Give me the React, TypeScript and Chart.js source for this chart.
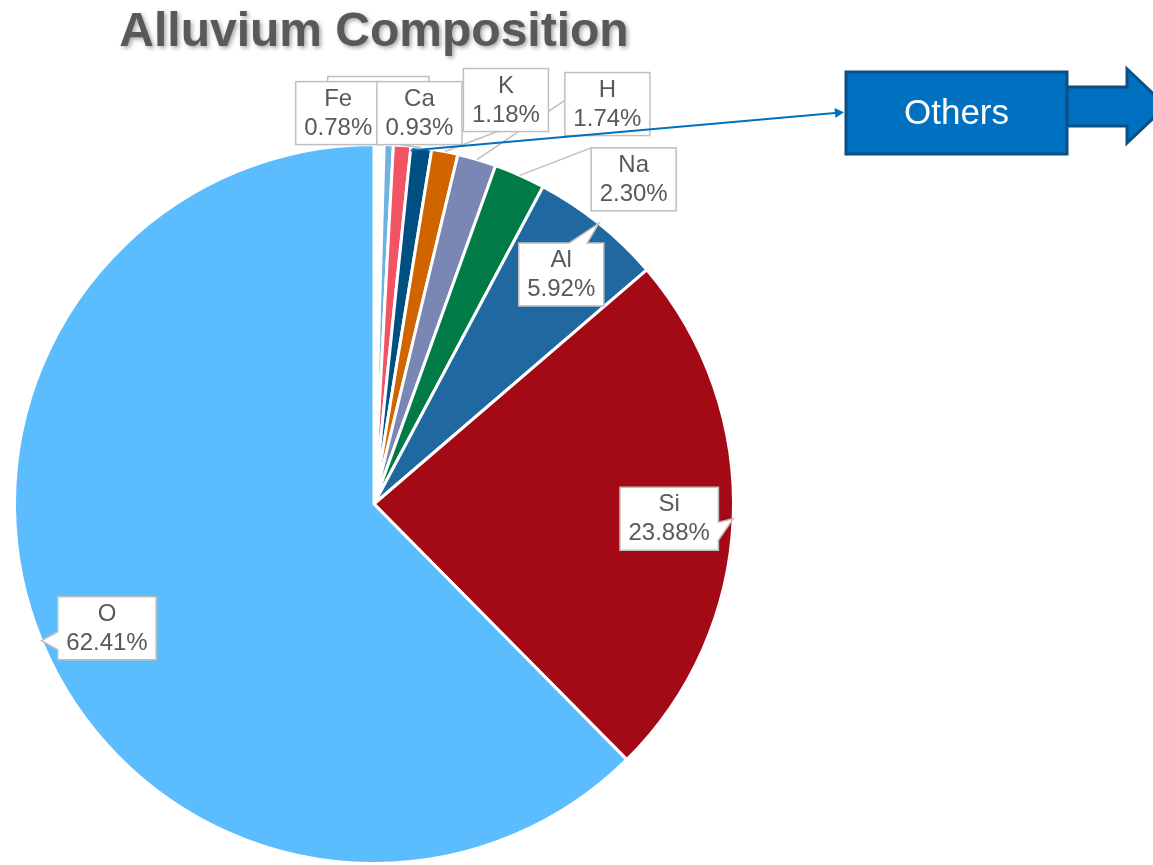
import React, { useEffect, useRef } from "react";
import { Chart, registerables } from "chart.js";

Chart.register(...registerables);

// ---- data ----
const categories = ["Other A", "Other B", "Fe", "Ca", "K", "H", "Na", "Al", "Si", "O"];
const percentages = [0.45, 0.41, 0.78, 0.93, 1.18, 1.74, 2.3, 5.92, 23.88, 62.41];
const sliceColors = [
  "#ffffff",
  "#6cb2e2",
  "#f25464",
  "#004f82",
  "#d06500",
  "#7a86b3",
  "#007a46",
  "#1f68a0",
  "#a30a15",
  "#5bbdfd",
];
const labelled = [false, false, true, true, true, true, true, true, true, true];
const titleText = "Alluvium Composition";
const othersText = "Others";

// ---- label layout (offset of the box centre from the slice's outer mid-point) ----
const labelOffsets: Record<string, [number, number]> = {
  Fe: [-64, -32.5],
  Ca: [-2, -34.5],
  K: [61, -51.5],
  H: [130.5, -55.5],
  Na: [114, 4],
  Al: [-37.5, 51],
  Si: [-64, 0],
  O: [65.5, -12.5],
};
// where the leader line meets the box (fraction of width, fraction of height)
const leaderAttach: Record<string, [number, number] | null> = {
  Fe: null,
  Ca: [0.28, 1],
  K: [0.4, 1],
  H: [0, 0.44],
  Na: [0, 0],
};
const calloutLabels = ["Al", "Si", "O"];

const FONT = "'Liberation Sans', Arial, sans-serif";
const TEXT_GREY = "#595959";
const BOX_BORDER = "#bfbfbf";

function drawCallout(ctx: CanvasRenderingContext2D, l: number, t: number, r: number, b: number, tx: number, ty: number) {
  const wh = 9;
  let side = "bottom";
  if (tx < l) side = "left";
  else if (tx > r) side = "right";
  else if (ty < t) side = "top";
  ctx.beginPath();
  ctx.moveTo(l, t);
  if (side === "top") {
    const c = l + (r - l) * 0.7;
    ctx.lineTo(c - wh, t);
    ctx.lineTo(tx, ty);
    ctx.lineTo(c + wh, t);
  }
  ctx.lineTo(r, t);
  if (side === "right") {
    const c = t + (b - t) * 0.7;
    ctx.lineTo(r, c - wh);
    ctx.lineTo(tx, ty);
    ctx.lineTo(r, c + wh);
  }
  ctx.lineTo(r, b);
  if (side === "bottom") {
    const c = l + (r - l) * 0.7;
    ctx.lineTo(c + wh, b);
    ctx.lineTo(tx, ty);
    ctx.lineTo(c - wh, b);
  }
  ctx.lineTo(l, b);
  if (side === "left") {
    const c = t + (b - t) * 0.7;
    ctx.lineTo(l, c + wh);
    ctx.lineTo(tx, ty);
    ctx.lineTo(l, c - wh);
  }
  ctx.closePath();
  ctx.fillStyle = "#ffffff";
  ctx.fill();
  ctx.strokeStyle = BOX_BORDER;
  ctx.lineWidth = 1.5;
  ctx.stroke();
}

const labelPlugin = {
  id: "alluviumLabels",
  afterDraw(chart: any) {
    const ctx: CanvasRenderingContext2D = chart.ctx;
    const meta = chart.getDatasetMeta(0);
    const first = meta.data[0];
    const cx = first.x;
    ctx.save();

    // Title
    ctx.save();
    ctx.font = `bold 48px ${FONT}`;
    ctx.textAlign = "center";
    ctx.textBaseline = "alphabetic";
    ctx.shadowColor = "rgba(0,0,0,0.35)";
    ctx.shadowBlur = 4;
    ctx.shadowOffsetX = 2;
    ctx.shadowOffsetY = 2;
    ctx.fillStyle = TEXT_GREY;
    ctx.fillText(titleText, cx, 46);
    ctx.restore();

    ctx.font = `24px ${FONT}`;
    const items: any[] = [];
    meta.data.forEach((arc: any, i: number) => {
      if (!labelled[i]) return;
      const name = categories[i];
      const p = arc.getProps(["x", "y", "startAngle", "endAngle", "outerRadius"], true);
      const mid = (p.startAngle + p.endAngle) / 2;
      const ax = p.x + Math.cos(mid) * p.outerRadius;
      const ay = p.y + Math.sin(mid) * p.outerRadius;
      const [dx, dy] = labelOffsets[name];
      const pct = percentages[i].toFixed(2) + "%";
      const w = Math.max(ctx.measureText(name).width, ctx.measureText(pct).width) + 17;
      const h = 63;
      const bx = ax + dx;
      const by = ay + dy;
      items.push({ name, pct, ax, ay, l: bx - w / 2, r: bx + w / 2, t: by - h / 2, b: by + h / 2, bx, by });
    });

    // hidden (overlapped) label box of the smallest slices
    const fe = items.find((it) => it.name === "Fe");
    const ca = items.find((it) => it.name === "Ca");
    if (fe && ca) {
      ctx.fillStyle = "#ffffff";
      ctx.strokeStyle = BOX_BORDER;
      ctx.lineWidth = 1.5;
      ctx.beginPath();
      ctx.rect(fe.l + 32, fe.t - 5, ca.r - fe.l - 65, 60);
      ctx.fill();
      ctx.stroke();
    }

    // leader lines
    items.forEach((it) => {
      const att = leaderAttach[it.name];
      if (!att) return;
      const px = it.l + (it.r - it.l) * att[0];
      const py = it.t + (it.b - it.t) * att[1];
      ctx.beginPath();
      ctx.moveTo(px, py);
      ctx.lineTo(it.ax, it.ay);
      ctx.strokeStyle = BOX_BORDER;
      ctx.lineWidth = 1.5;
      ctx.stroke();
    });

    // boxes + text
    items.forEach((it) => {
      if (calloutLabels.includes(it.name)) {
        drawCallout(ctx, it.l, it.t, it.r, it.b, it.ax, it.ay);
      } else {
        ctx.fillStyle = "#ffffff";
        ctx.fillRect(it.l, it.t, it.r - it.l, it.b - it.t);
        ctx.strokeStyle = BOX_BORDER;
        ctx.lineWidth = 1.5;
        ctx.strokeRect(it.l, it.t, it.r - it.l, it.b - it.t);
      }
      ctx.fillStyle = TEXT_GREY;
      ctx.font = `24px ${FONT}`;
      ctx.textAlign = "center";
      ctx.textBaseline = "middle";
      ctx.fillText(it.name, it.bx, it.by - 14);
      ctx.fillText(it.pct, it.bx, it.by + 15);
    });

    // "Others" annotation
    const ob = { l: 846, t: 72, w: 221, h: 82 };
    const midY = 106;
    // big arrow
    ctx.beginPath();
    ctx.moveTo(ob.l + ob.w - 2, midY - 19);
    ctx.lineTo(1127, midY - 19);
    ctx.lineTo(1127, midY - 37);
    ctx.lineTo(1166, midY);
    ctx.lineTo(1127, midY + 37);
    ctx.lineTo(1127, midY + 20);
    ctx.lineTo(ob.l + ob.w - 2, midY + 20);
    ctx.closePath();
    ctx.fillStyle = "#0070c0";
    ctx.fill();
    ctx.strokeStyle = "#0b4f87";
    ctx.lineWidth = 3;
    ctx.stroke();
    // box
    ctx.fillStyle = "#0070c0";
    ctx.fillRect(ob.l, ob.t, ob.w, ob.h);
    ctx.strokeStyle = "#0b4f87";
    ctx.lineWidth = 3;
    ctx.strokeRect(ob.l, ob.t, ob.w, ob.h);
    ctx.fillStyle = "#ffffff";
    ctx.font = `35px ${FONT}`;
    ctx.textAlign = "center";
    ctx.textBaseline = "middle";
    ctx.fillText(othersText, ob.l + ob.w / 2, ob.t + ob.h / 2 + 1);

    // thin pointer line from the small slices to the box
    const feArc = meta.data[2].getProps(["x", "y", "endAngle", "outerRadius"], true);
    const sx = feArc.x + Math.cos(feArc.endAngle) * (feArc.outerRadius - 4);
    const sy = feArc.y + Math.sin(feArc.endAngle) * (feArc.outerRadius - 4);
    const ex = ob.l - 11;
    const ey = 113;
    ctx.beginPath();
    ctx.moveTo(sx, sy);
    ctx.lineTo(ex, ey);
    ctx.strokeStyle = "#0070c0";
    ctx.lineWidth = 2;
    ctx.stroke();
    const ang = Math.atan2(ey - sy, ex - sx);
    ctx.beginPath();
    ctx.moveTo(ex + Math.cos(ang) * 9, ey + Math.sin(ang) * 9);
    ctx.lineTo(ex + Math.cos(ang + Math.PI / 2) * 5, ey + Math.sin(ang + Math.PI / 2) * 5);
    ctx.lineTo(ex + Math.cos(ang - Math.PI / 2) * 5, ey + Math.sin(ang - Math.PI / 2) * 5);
    ctx.closePath();
    ctx.fillStyle = "#0070c0";
    ctx.fill();

    ctx.restore();
  },
};

export default function App() {
  const canvasRef = useRef<HTMLCanvasElement | null>(null);

  useEffect(() => {
    if (!canvasRef.current) return;
    const chart = new Chart(canvasRef.current, {
      type: "pie",
      data: {
        labels: categories,
        datasets: [
          {
            data: percentages,
            backgroundColor: sliceColors,
            borderColor: "#ffffff",
            borderWidth: 3,
          },
        ],
      },
      options: {
        responsive: false,
        animation: false,
        devicePixelRatio: 1,
        events: [],
        layout: { padding: { left: 13, right: 418, top: 143, bottom: 0 } },
        plugins: {
          legend: { display: false },
          tooltip: { enabled: false },
          title: { display: false },
        },
      },
      plugins: [labelPlugin],
    });
    return () => chart.destroy();
  }, []);

  return (
    <div style={{ position: "absolute", left: 0, top: 0, width: 1153, height: 865, background: "#ffffff", overflow: "hidden" }}>
      <canvas ref={canvasRef} width={1153} height={865} style={{ display: "block" }} />
    </div>
  );
}
